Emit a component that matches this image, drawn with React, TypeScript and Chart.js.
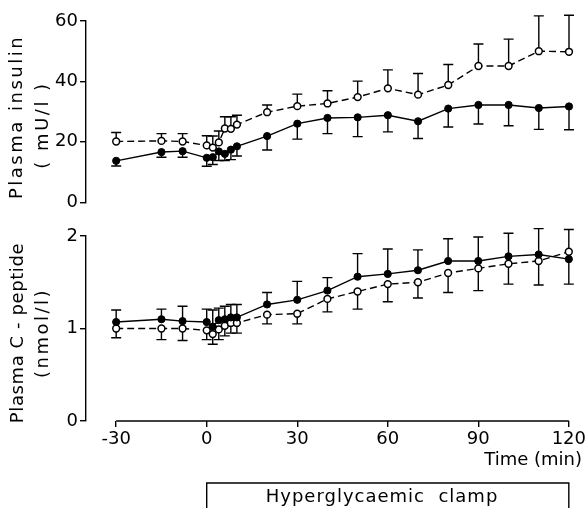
import React, { useEffect, useRef } from 'react';
import { Chart, registerables } from 'chart.js';

Chart.register(...registerables);

const FONT = '"DejaVu Sans", sans-serif';

const times = [-30, -15, -8, 0, 2, 4, 6, 8, 10, 20, 30, 40, 50, 60, 70, 80, 90, 100, 110, 120];

const insulinOpen = [20.1, 20.3, 20.1, 18.8, 18.1, 19.8, 24.4, 24.3, 25.7, 29.8, 31.8, 32.7, 34.8, 37.7, 35.6, 38.8, 45.1, 45.1, 50.0, 49.8];
const insulinOpenSem = [3.0, 2.4, 2.6, 3.2, 3.8, 3.8, 3.9, 4.0, 3.1, 2.4, 4.0, 4.2, 5.3, 6.1, 7.0, 6.8, 7.3, 8.9, 11.7, 12.1];
const insulinClosed = [13.7, 16.6, 16.9, 14.7, 14.9, 16.8, 16.0, 17.4, 18.5, 21.9, 26.0, 27.9, 28.1, 28.8, 26.8, 31.0, 32.2, 32.2, 31.2, 31.7];
const insulinClosedSem = [1.7, 1.7, 2.0, 2.8, 2.4, 3.0, 2.2, 3.3, 3.2, 4.6, 5.1, 5.2, 6.4, 5.5, 5.7, 6.1, 6.3, 6.9, 7.1, 7.7];

const cpepClosed = [1.07, 1.10, 1.08, 1.07, 1.02, 1.09, 1.10, 1.12, 1.12, 1.26, 1.31, 1.41, 1.56, 1.59, 1.63, 1.73, 1.73, 1.78, 1.80, 1.75];
const cpepClosedSem = [0.13, 0.11, 0.16, 0.14, 0.18, 0.13, 0.14, 0.14, 0.14, 0.13, 0.20, 0.14, 0.25, 0.27, 0.22, 0.24, 0.26, 0.25, 0.28, 0.32];
const cpepOpen = [1.00, 1.00, 1.00, 0.98, 0.94, 0.99, 1.03, 1.06, 1.06, 1.15, 1.16, 1.32, 1.40, 1.48, 1.50, 1.60, 1.65, 1.70, 1.73, 1.83];
const cpepOpenSem = [0.10, 0.12, 0.13, 0.10, 0.11, 0.11, 0.11, 0.11, 0.11, 0.10, 0.11, 0.14, 0.19, 0.19, 0.17, 0.21, 0.24, 0.22, 0.26, 0.35];

const insulinTicks = [0, 20, 40, 60];
const cpepTicks = [0, 1, 2];
const timeTicks = [-30, 0, 30, 60, 90, 120];

const insulinTitle = ['Plasma insulin', '( mU/l )'];
const cpepTitle = ['Plasma C - peptide', '(nmol/l)'];
const xTitle = 'Time (min)';
const clampLabel = 'Hyperglycaemic  clamp';

const LW = 1.4;

function pts(vals: number[]) {
  return times.map((t, i) => ({ x: t, y: vals[i] }));
}

type ErrSet = { index: number; err: number[]; dir: number };

function makeErrorPlugin(sets: ErrSet[]) {
  return {
    id: 'errorBars',
    beforeDatasetsDraw(chart: any) {
      const { ctx } = chart;
      const ys = chart.scales.y;
      ctx.save();
      ctx.strokeStyle = '#000';
      ctx.lineWidth = LW;
      sets.forEach((s) => {
        const meta = chart.getDatasetMeta(s.index);
        const data = chart.data.datasets[s.index].data;
        meta.data.forEach((el: any, i: number) => {
          const v = data[i].y;
          const start = ys.getPixelForValue(v);
          const end = ys.getPixelForValue(v + s.dir * s.err[i]);
          ctx.beginPath();
          ctx.moveTo(el.x, start);
          ctx.lineTo(el.x, end);
          ctx.moveTo(el.x - 5, end);
          ctx.lineTo(el.x + 5, end);
          ctx.stroke();
        });
      });
      ctx.restore();
    },
  };
}

function drawRotated(ctx: CanvasRenderingContext2D, text: string, x: number, y: number, spacing: number) {
  ctx.save();
  ctx.translate(x, y);
  ctx.rotate(-Math.PI / 2);
  (ctx as any).letterSpacing = spacing + 'px';
  ctx.textAlign = 'center';
  ctx.textBaseline = 'middle';
  ctx.fillText(text, 0, 0);
  ctx.restore();
}

function datasets(closed: number[], open: number[]) {
  return [
    {
      data: pts(closed),
      borderColor: '#000',
      borderWidth: LW,
      pointRadius: 3.6,
      pointBackgroundColor: '#000',
      pointBorderColor: '#000',
      pointBorderWidth: 1,
      clip: false as any,
    },
    {
      data: pts(open),
      borderColor: '#000',
      borderWidth: LW,
      borderDash: [7, 4],
      pointRadius: 3.4,
      pointBackgroundColor: '#fff',
      pointBorderColor: '#000',
      pointBorderWidth: 1.5,
      clip: false as any,
    },
  ];
}

function yScale(min: number, max: number, ticks: number[]) {
  return {
    type: 'linear' as const,
    min,
    max,
    afterBuildTicks: (s: any) => {
      s.ticks = ticks.map((v) => ({ value: v }));
    },
    afterFit: (s: any) => {
      s.width = 86;
    },
    ticks: { color: '#000', font: { family: FONT, size: 18 }, padding: 2 },
    grid: { drawOnChartArea: false, drawTicks: true, tickLength: 6, color: '#000', lineWidth: LW },
    border: { display: true, color: '#000', width: LW },
  };
}

export default function App() {
  const topRef = useRef<HTMLCanvasElement>(null);
  const botRef = useRef<HTMLCanvasElement>(null);

  useEffect(() => {
    const topTitlePlugin = {
      id: 'topTitle',
      afterDraw(chart: any) {
        const ctx = chart.ctx;
        ctx.save();
        ctx.fillStyle = '#000';
        ctx.font = `18px ${FONT}`;
        drawRotated(ctx, insulinTitle[0], 17, 117, 2.5);
        drawRotated(ctx, insulinTitle[1], 43, 125, 2.5);
        ctx.restore();
      },
    };

    const top = new Chart(topRef.current!, {
      type: 'line',
      data: { datasets: datasets(insulinClosed, insulinOpen) as any },
      options: {
        animation: false,
        responsive: false,
        devicePixelRatio: 1,
        layout: { padding: { left: 0, right: 19, top: 21, bottom: 9 } },
        plugins: { legend: { display: false }, tooltip: { enabled: false } },
        scales: {
          x: { type: 'linear', min: -40, max: 120, display: false },
          y: yScale(0, 60, insulinTicks) as any,
        },
      },
      plugins: [
        makeErrorPlugin([
          { index: 0, err: insulinClosedSem, dir: -1 },
          { index: 1, err: insulinOpenSem, dir: 1 },
        ]),
        topTitlePlugin,
      ],
    });

    const botDecor = {
      id: 'botDecor',
      afterDraw(chart: any) {
        const ctx = chart.ctx;
        const xs = chart.scales.x;
        const area = chart.chartArea;
        ctx.save();
        ctx.strokeStyle = '#000';
        ctx.lineWidth = LW;
        ctx.beginPath();
        ctx.moveTo(xs.getPixelForValue(timeTicks[0]), area.bottom);
        ctx.lineTo(xs.getPixelForValue(timeTicks[timeTicks.length - 1]), area.bottom);
        ctx.stroke();

        // clamp bracket
        const x0 = xs.getPixelForValue(0);
        const x1 = xs.getPixelForValue(120);
        const by = 268;
        ctx.beginPath();
        ctx.moveTo(x0, 300);
        ctx.lineTo(x0, by);
        ctx.lineTo(x1, by);
        ctx.lineTo(x1, 300);
        ctx.stroke();

        ctx.fillStyle = '#000';
        ctx.font = `18px ${FONT}`;
        ctx.textBaseline = 'middle';
        ctx.textAlign = 'right';
        ctx.fillText(xTitle, 582, 245);
        ctx.textAlign = 'center';
        (ctx as any).letterSpacing = '1px';
        ctx.fillText(clampLabel, 382, 282);
        (ctx as any).letterSpacing = '0px';

        drawRotated(ctx, cpepTitle[0], 18, 118, 0.6);
        drawRotated(ctx, cpepTitle[1], 43, 118, 2.5);
        ctx.restore();
      },
    };

    const bot = new Chart(botRef.current!, {
      type: 'line',
      data: { datasets: datasets(cpepClosed, cpepOpen) as any },
      options: {
        animation: false,
        responsive: false,
        devicePixelRatio: 1,
        layout: { padding: { left: 0, right: 19, top: 21, bottom: 0 } },
        plugins: { legend: { display: false }, tooltip: { enabled: false } },
        scales: {
          x: {
            type: 'linear',
            min: -40,
            max: 120,
            afterBuildTicks: (s: any) => {
              s.ticks = timeTicks.map((v) => ({ value: v }));
            },
            afterFit: (s: any) => {
              s.height = 87;
            },
            ticks: { color: '#000', font: { family: FONT, size: 18 }, padding: 2, maxRotation: 0 },
            grid: { drawOnChartArea: false, drawTicks: true, tickLength: 6, color: '#000', lineWidth: LW },
            border: { display: false },
          },
          y: yScale(0, 2, cpepTicks) as any,
        },
      },
      plugins: [
        makeErrorPlugin([
          { index: 0, err: cpepClosedSem, dir: 1 },
          { index: 1, err: cpepOpenSem, dir: -1 },
        ]),
        botDecor,
      ],
    });

    return () => {
      top.destroy();
      bot.destroy();
    };
  }, []);

  return (
    <div style={{ position: 'fixed', left: 0, top: 0, width: 588, height: 508, background: '#fff', overflow: 'hidden' }}>
      <canvas ref={topRef} width={588} height={215} style={{ position: 'absolute', left: 0, top: 0 }} />
      <canvas ref={botRef} width={588} height={293} style={{ position: 'absolute', left: 0, top: 215 }} />
    </div>
  );
}
